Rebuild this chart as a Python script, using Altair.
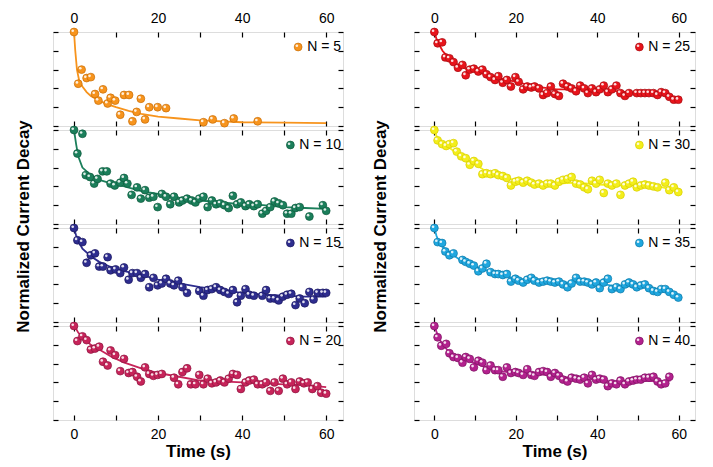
import altair as alt
import pandas as pd

# ---------------- data ----------------
FIT_X = [0, 0.5, 1, 2, 4, 6, 9, 12, 16, 20, 25, 30, 35, 40, 45, 50, 55, 60]

# N = 5
x5 = [0, 1, 1.8, 3, 4, 5, 5.8, 6.9, 8, 8.7, 9.8, 11, 11.9, 13.1, 13.9, 14.9, 15.9, 16.9,
      17.9, 19.9, 21.9, 30.8, 33, 35.8, 38, 43.7]
y5 = [1.0, 0.45, 0.60, 0.51, 0.52, 0.34, 0.27, 0.39, 0.24, 0.30, 0.27, 0.12, 0.33, 0.33,
      0.05, 0.15, 0.29, 0.07, 0.20, 0.20, 0.19, 0.04, 0.07, 0.03, 0.08, 0.05]
fx5 = [0, 0.3, 0.7, 1.2, 2, 3, 4, 6, 8, 10, 13, 16, 20, 25, 30, 40, 50, 60]
fy5 = [1, 0.8, 0.6, 0.49, 0.42, 0.36, 0.32, 0.27, 0.23, 0.2, 0.16, 0.13, 0.1, 0.08, 0.06,
       0.04, 0.035, 0.03]

# N = 10
x10 = [0, 2, 0.8, 2.8, 3.8, 4.8, 5.6, 6.8, 7.8, 8.7, 9.7, 11, 11.9, 12.7, 13.7, 15, 15.9,
       16.9, 17.9, 18.9, 19.9, 20.9, 21.9, 22.9, 23.8, 25, 25.8, 26.9, 28, 28.9, 29.8, 30.8,
       31.8, 32.8, 33.8, 34.8, 35.8, 36.8, 37.8, 38.8, 39.7, 40.8, 41.7, 42.8, 43.7, 44.8,
       45.7, 46.7, 47.7, 48.7, 49.7, 50.7, 51.7, 52.7, 53.7, 56, 59.2, 60]
y10 = [1.0, 0.96, 0.75, 0.52, 0.50, 0.43, 0.48, 0.56, 0.56, 0.43, 0.41, 0.44, 0.49, 0.43,
       0.31, 0.39, 0.27, 0.36, 0.28, 0.29, 0.18, 0.32, 0.29, 0.21, 0.29, 0.23, 0.25, 0.27,
       0.25, 0.23, 0.27, 0.29, 0.18, 0.25, 0.21, 0.22, 0.20, 0.17, 0.30, 0.21, 0.23, 0.19,
       0.21, 0.19, 0.21, 0.11, 0.14, 0.18, 0.24, 0.22, 0.20, 0.11, 0.11, 0.17, 0.18, 0.08,
       0.20, 0.14]
fy10 = [1, 0.85, 0.72, 0.6, 0.52, 0.47, 0.43, 0.4, 0.35, 0.32, 0.28, 0.25, 0.23, 0.21, 0.2,
        0.18, 0.17, 0.16]

# N = 15
x15 = [0, 0.8, 2, 3, 4, 5, 6, 6.9, 8, 8.7, 9.9, 11, 11.9, 13, 13.9, 15, 15.9, 16.9, 17.9,
       18.9, 19.9, 20.9, 21.9, 22.9, 23.8, 24.8, 25.8, 26.9, 29.8, 30.8, 31.8, 32.8, 33.8,
       34.8, 35.8, 36.8, 37.8, 38.8, 39.7, 40.8, 41.7, 42.8, 44.8, 45.7, 46.7, 47.7, 48.7,
       49.7, 50.7, 51.7, 52.7, 53.7, 54.9, 56, 57, 58, 59.2, 60]
y15 = [1.0, 0.87, 0.85, 0.63, 0.71, 0.73, 0.59, 0.59, 0.69, 0.55, 0.56, 0.52, 0.58, 0.45,
       0.52, 0.52, 0.47, 0.51, 0.37, 0.47, 0.39, 0.41, 0.46, 0.41, 0.39, 0.44, 0.37, 0.31,
       0.33, 0.28, 0.34, 0.35, 0.37, 0.34, 0.32, 0.30, 0.34, 0.21, 0.28, 0.35, 0.29, 0.28,
       0.28, 0.34, 0.25, 0.25, 0.23, 0.27, 0.29, 0.30, 0.18, 0.25, 0.20, 0.32, 0.24, 0.31,
       0.31, 0.31]
fy15 = [1, 0.92, 0.86, 0.78, 0.7, 0.64, 0.58, 0.54, 0.5, 0.45, 0.41, 0.37, 0.34, 0.31, 0.29,
        0.28, 0.27, 0.27]

# N = 20
x20 = [0, 0.8, 2, 3, 4, 5, 6, 6.9, 8, 8.7, 9.8, 11, 11.9, 13, 13.9, 15, 15.9, 16.9, 17.9,
       18.9, 19.9, 20.9, 23.8, 24.8, 25.8, 26.9, 27.8, 28.9, 29.8, 30.8, 31.8, 32.8, 33.8,
       34.8, 35.8, 36.8, 37.8, 38.8, 39.7, 40.8, 41.7, 42.8, 43.7, 44.8, 45.7, 46.7, 47.7,
       48.7, 49.7, 50.7, 51.7, 52.7, 53.7, 54.7, 55.6, 56.7, 57.9, 58.8, 60]
y20 = [1.0, 0.84, 0.89, 0.85, 0.75, 0.76, 0.78, 0.62, 0.58, 0.74, 0.69, 0.52, 0.65, 0.50,
       0.51, 0.46, 0.41, 0.56, 0.49, 0.47, 0.48, 0.49, 0.45, 0.38, 0.51, 0.55, 0.38, 0.38,
       0.48, 0.38, 0.44, 0.39, 0.40, 0.42, 0.40, 0.44, 0.49, 0.48, 0.33, 0.40, 0.42, 0.43,
       0.38, 0.38, 0.40, 0.31, 0.40, 0.31, 0.44, 0.38, 0.40, 0.33, 0.41, 0.39, 0.40, 0.33,
       0.36, 0.29, 0.28]
fy20 = [1, 0.97, 0.93, 0.88, 0.8, 0.75, 0.67, 0.61, 0.55, 0.5, 0.46, 0.42, 0.41, 0.4, 0.39,
        0.38, 0.37, 0.35]

# N = 25
x25 = [0, 0.8, 1.9, 2.7, 3.7, 4.7, 5.8, 6.9, 7.7, 8.7, 9.7, 10.8, 11.8, 12.8, 13.8, 14.9,
       15.7, 16.8, 17.8, 18.8, 19.9, 20.7, 21.8, 22.8, 23.8, 24.6, 25.7, 26.7, 27.7, 28.6,
       29.6, 30.6, 31.6, 32.7, 33.7, 34.8, 35.8, 36.8, 37.7, 38.7, 39.7, 40.6, 41.6, 42.6,
       43.6, 44.7, 45.7, 46.8, 47.8, 49.7, 50.7, 51.7, 52.7, 53.8, 54.8, 55.7, 56.7, 57.7,
       58.8, 59.9]
y25 = [1.0, 0.88, 0.89, 0.73, 0.72, 0.68, 0.62, 0.65, 0.54, 0.60, 0.61, 0.58, 0.60, 0.55,
       0.52, 0.49, 0.53, 0.46, 0.49, 0.42, 0.52, 0.47, 0.39, 0.42, 0.41, 0.42, 0.40, 0.33,
       0.35, 0.42, 0.34, 0.32, 0.45, 0.42, 0.40, 0.37, 0.43, 0.40, 0.35, 0.40, 0.36, 0.39,
       0.43, 0.36, 0.39, 0.43, 0.35, 0.32, 0.35, 0.35, 0.35, 0.35, 0.35, 0.35, 0.33, 0.36,
       0.35, 0.31, 0.28, 0.28]
fy25 = [1, 0.93, 0.88, 0.8, 0.7, 0.64, 0.59, 0.56, 0.51, 0.47, 0.42, 0.39, 0.39, 0.38, 0.37,
        0.35, 0.34, 0.29]

# N = 30
x30 = [0, 0.8, 1.9, 2.9, 3.7, 4.7, 5.5, 6.6, 7.7, 8.7, 9.7, 10.8, 11.8, 12.8, 13.8, 14.9,
       15.7, 16.8, 17.8, 18.8, 19.9, 20.7, 21.8, 22.8, 23.8, 24.6, 25.7, 26.7, 27.7, 28.6,
       29.6, 30.6, 31.6, 32.7, 33.7, 34.8, 35.8, 36.8, 37.7, 38.7, 39.7, 40.6, 41.6, 42.6,
       43.6, 44.7, 45.7, 46.8, 47.8, 48.8, 49.7, 50.7, 51.7, 52.7, 53.8, 54.8, 56.7, 57.7,
       58.8, 59.9]
y30 = [1.0, 0.89, 0.85, 0.83, 0.85, 0.86, 0.77, 0.72, 0.70, 0.63, 0.67, 0.64, 0.53, 0.54,
       0.53, 0.54, 0.52, 0.51, 0.49, 0.41, 0.45, 0.46, 0.44, 0.46, 0.44, 0.42, 0.43, 0.41,
       0.43, 0.43, 0.41, 0.45, 0.47, 0.48, 0.50, 0.43, 0.42, 0.39, 0.37, 0.46, 0.43, 0.47,
       0.33, 0.43, 0.41, 0.43, 0.31, 0.41, 0.43, 0.45, 0.39, 0.41, 0.42, 0.41, 0.40, 0.39,
       0.44, 0.36, 0.39, 0.34]
fy30 = [1, 0.94, 0.89, 0.84, 0.8, 0.74, 0.66, 0.58, 0.52, 0.46, 0.44, 0.43, 0.44, 0.42, 0.41,
        0.41, 0.40, 0.35]

# N = 35
x35 = [0, 0.8, 1.9, 2.7, 3.7, 4.7, 6.9, 7.7, 8.7, 9.7, 10.8, 11.8, 12.8, 13.8, 14.9, 15.7,
       16.8, 17.8, 18.8, 19.9, 20.7, 21.8, 22.8, 23.8, 24.6, 25.7, 26.7, 27.7, 28.6, 29.6,
       30.6, 31.6, 32.7, 33.7, 34.8, 35.8, 36.8, 37.7, 38.7, 39.7, 40.6, 41.6, 42.6, 43.6,
       44.7, 45.7, 46.8, 47.8, 48.8, 49.7, 50.7, 51.7, 52.7, 53.8, 54.8, 55.7, 56.7, 57.7,
       58.8, 59.9]
y35 = [1.0, 0.85, 0.84, 0.75, 0.71, 0.73, 0.66, 0.64, 0.62, 0.60, 0.54, 0.57, 0.62, 0.53,
       0.51, 0.51, 0.50, 0.51, 0.43, 0.46, 0.44, 0.42, 0.45, 0.47, 0.44, 0.42, 0.43, 0.44,
       0.43, 0.42, 0.43, 0.40, 0.37, 0.41, 0.47, 0.43, 0.43, 0.42, 0.40, 0.42, 0.36, 0.42,
       0.46, 0.35, 0.37, 0.35, 0.40, 0.42, 0.40, 0.37, 0.39, 0.40, 0.36, 0.33, 0.32, 0.35,
       0.35, 0.32, 0.29, 0.26]
fy35 = [1, 0.92, 0.86, 0.8, 0.73, 0.67, 0.61, 0.56, 0.51, 0.46, 0.43, 0.42, 0.42, 0.41, 0.38,
        0.38, 0.35, 0.27]

# N = 40
x40 = [0, 0.8, 1.7, 2.9, 3.7, 4.7, 5.8, 6.9, 7.7, 8.7, 9.7, 10.8, 11.8, 12.8, 13.8, 14.9,
       15.7, 16.8, 17.8, 18.8, 19.9, 20.7, 21.8, 22.8, 23.8, 24.6, 25.7, 26.7, 27.7, 28.6,
       29.6, 30.6, 31.6, 32.7, 33.7, 34.8, 35.8, 36.8, 37.7, 38.7, 39.7, 40.6, 41.6, 42.6,
       43.6, 44.7, 45.7, 46.8, 47.8, 48.8, 49.7, 50.7, 51.7, 52.7, 53.8, 54.8, 55.7, 56.7,
       57.7]
y40 = [1.0, 0.88, 0.79, 0.81, 0.71, 0.67, 0.66, 0.61, 0.67, 0.65, 0.56, 0.63, 0.61, 0.53,
       0.58, 0.53, 0.53, 0.46, 0.56, 0.50, 0.51, 0.50, 0.48, 0.54, 0.48, 0.47, 0.51, 0.52,
       0.51, 0.46, 0.50, 0.47, 0.43, 0.41, 0.45, 0.44, 0.43, 0.45, 0.39, 0.48, 0.43, 0.44,
       0.43, 0.36, 0.39, 0.38, 0.42, 0.38, 0.41, 0.42, 0.43, 0.43, 0.45, 0.45, 0.46, 0.41,
       0.38, 0.39, 0.46]
fx40 = [0, 0.5, 1, 2, 4, 6, 9, 12, 16, 20, 25, 30, 35, 40, 45, 50, 55, 58]
fy40 = [1, 0.94, 0.88, 0.8, 0.71, 0.66, 0.62, 0.57, 0.52, 0.5, 0.49, 0.47, 0.44, 0.43, 0.4,
        0.42, 0.41, 0.42]

# ---------------- styling ----------------
FONT = "Liberation Sans"
X_DOMAIN = [-5, 64]
LEFT_W, RIGHT_W, PANEL_H = 290, 281, 94

CHAR_W = {"N": 0.722, " ": 0.278, "=": 0.584}


def text_width(s, size):
    return sum(CHAR_W.get(c, 0.556) for c in s) * size


def panel(label, color, stroke, xs, ys, fx, fy, width, top=False, bottom=False,
          ytitle=False, legend_gap=2):
    pts = pd.DataFrame({"t": xs, "v": ys})
    fit = pd.DataFrame({"t": fx, "v": fy})
    xs_ = alt.Scale(domain=X_DOMAIN, nice=False, zero=False)
    ys_ = alt.Scale(domain=[0, 1], nice=False, zero=False)
    tick_common = dict(values=list(range(0, 61, 10)), tickSize=5, offset=-5, domain=False,
                       grid=False, tickColor="black", tickWidth=1.2,
                       labelExpr="datum.value % 20 == 0 ? datum.label : ''",
                       labelPadding=7, labelFontSize=14, labelFont=FONT, labelColor="black")
    yt_common = dict(values=[0, 0.2, 0.4, 0.6, 0.8, 1.0], tickSize=5, offset=-5,
                     domain=False, grid=False, labels=False, tickColor="black",
                     tickWidth=1.2)

    if bottom:
        xb = alt.Axis(orient="bottom", labels=True, title="Time (s)", titleFont=FONT,
                      titleFontSize=17, titleFontWeight="bold", titleColor="black",
                      titlePadding=2, **tick_common)
    else:
        xb = alt.Axis(orient="bottom", labels=False, title=None, **tick_common)
    xt = alt.Axis(orient="top", labels=top, title=None, **tick_common)
    if ytitle:
        yl = alt.Axis(orient="left", title="Normalized Current Decay", titleFont=FONT,
                      titleFontSize=17, titleFontWeight="bold", titleColor="black",
                      titlePadding=ytitle, titleY=PANEL_H + 2, **yt_common)
    else:
        yl = alt.Axis(orient="left", title=None, **yt_common)
    yr = alt.Axis(orient="right", title=None, **yt_common)

    line = alt.Chart(fit).mark_line(color=color, strokeWidth=1.8).encode(
        x=alt.X("t:Q", scale=xs_, axis=xb),
        y=alt.Y("v:Q", scale=ys_, axis=yl),
    )
    dots = alt.Chart(pts).mark_circle(size=62, color=color, opacity=1, stroke=stroke,
                                      strokeWidth=0.7).encode(
        x=alt.X("t:Q", scale=xs_, axis=xt),
        y=alt.Y("v:Q", scale=ys_, axis=yr),
    )
    shine = alt.Chart(pts).mark_circle(size=7, color="white", opacity=0.85,
                                       xOffset=-1.3, yOffset=-1.3).encode(
        x=alt.X("t:Q", scale=xs_, axis=None),
        y=alt.Y("v:Q", scale=ys_, axis=None),
    )
    tw = text_width(label, 14)
    lx = width - legend_gap - tw - 9
    leg_df = pd.DataFrame({"lab": [label]})
    leg_dot = alt.Chart(leg_df).mark_circle(size=62, color=color, opacity=1, stroke=stroke,
                                            strokeWidth=0.7).encode(
        x=alt.value(lx), y=alt.value(15))
    leg_shine = alt.Chart(leg_df).mark_circle(size=7, color="white", opacity=0.85).encode(
        x=alt.value(lx - 1.3), y=alt.value(13.7))
    leg_txt = alt.Chart(leg_df).mark_text(align="right", baseline="middle", font=FONT,
                                          fontSize=14, color="black").encode(
        x=alt.value(width - legend_gap), y=alt.value(15), text="lab:N")

    return alt.layer(line, dots, shine, leg_dot, leg_shine, leg_txt).resolve_axis(
        x="independent", y="independent").properties(width=width, height=PANEL_H)


left = alt.vconcat(
    panel("N = 5", "#F7941D", "#C96E08", x5, y5, fx5, fy5, LEFT_W, top=True),
    panel("N = 10", "#1B7F5B", "#0E5A3E", x10, y10, FIT_X, fy10, LEFT_W, ytitle=20),
    panel("N = 15", "#2E2D8F", "#1C1A60", x15, y15, FIT_X, fy15, LEFT_W),
    panel("N = 20", "#C7245A", "#8E1540", x20, y20, FIT_X, fy20, LEFT_W, bottom=True),
    spacing=4, bounds="flush",
)
right = alt.vconcat(
    panel("N = 25", "#E8141B", "#A50D12", x25, y25, FIT_X, fy25, RIGHT_W, top=True,
          legend_gap=5),
    panel("N = 30", "#F3EE1C", "#D8CF00", x30, y30, FIT_X, fy30, RIGHT_W, ytitle=24,
          legend_gap=5),
    panel("N = 35", "#1FA7DF", "#107AA8", x35, y35, FIT_X, fy35, RIGHT_W, legend_gap=5),
    panel("N = 40", "#B3218E", "#7E1563", x40, y40, fx40, fy40, RIGHT_W, bottom=True,
          legend_gap=5),
    spacing=4, bounds="flush",
)

chart = alt.hconcat(left, right, spacing=25).properties(
    padding={"left": 5, "top": 2, "right": 5, "bottom": 5}
).configure_view(stroke="black", strokeWidth=1.3).configure(background="white")

chart.save("out.html", embed_options={"renderer": "svg", "actions": False})
